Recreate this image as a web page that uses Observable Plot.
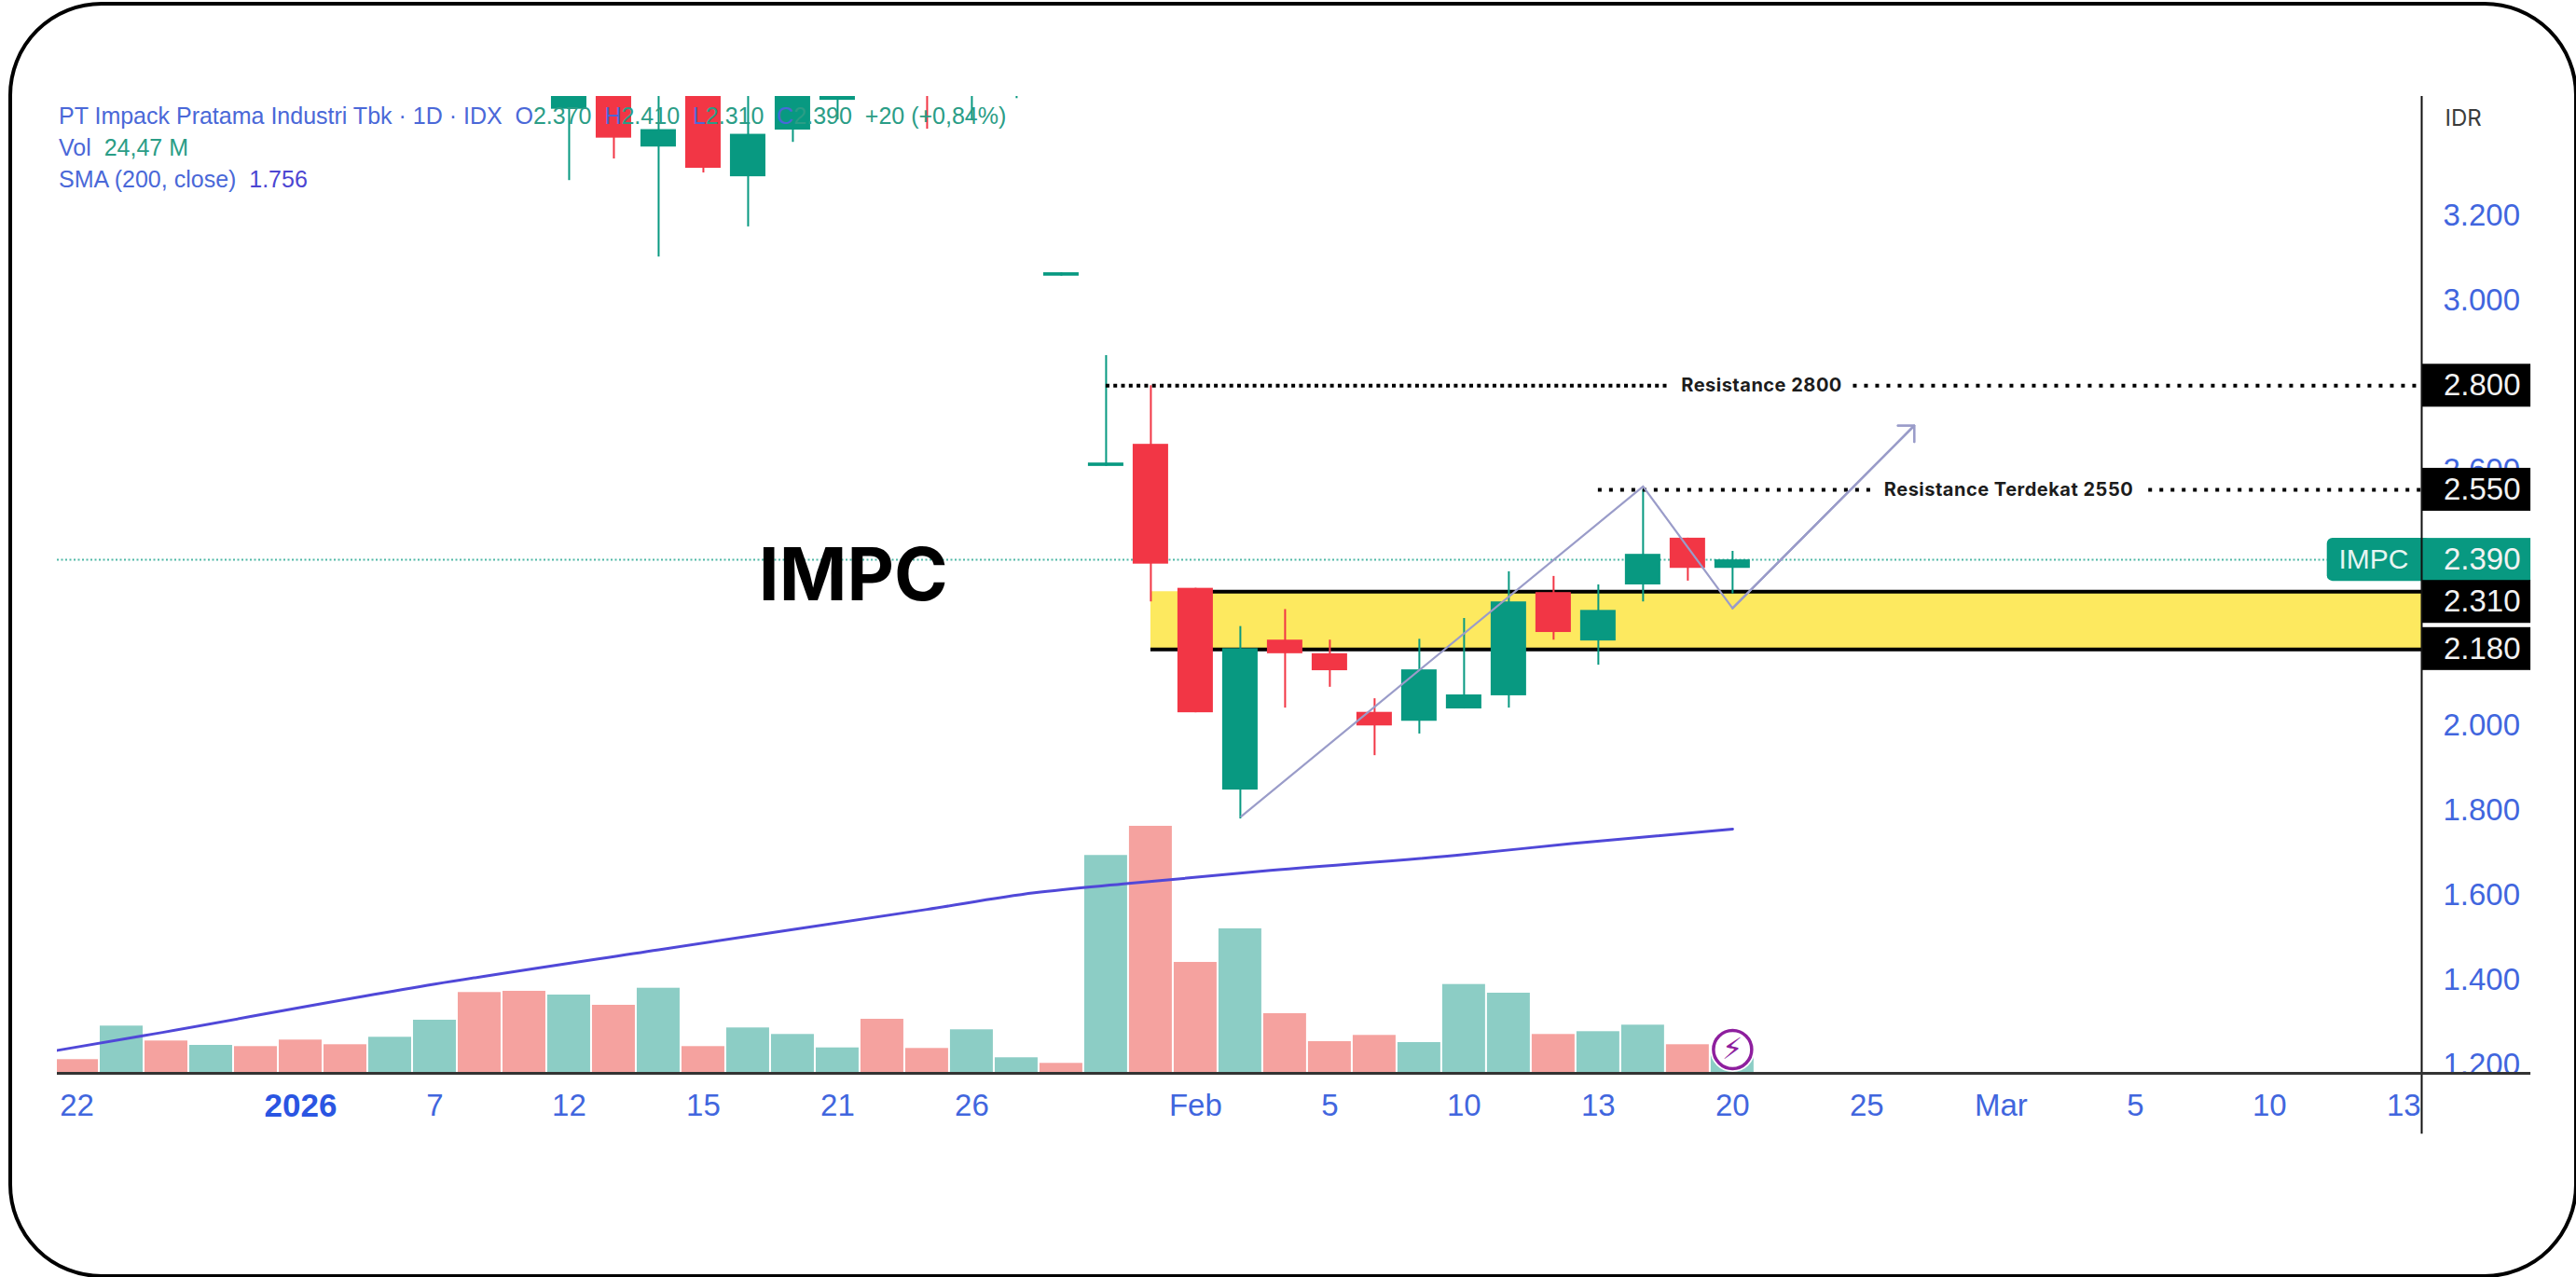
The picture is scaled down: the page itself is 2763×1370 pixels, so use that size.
<!DOCTYPE html>
<html>
<head>
<meta charset="utf-8">
<script src="https://cdn.jsdelivr.net/npm/d3@7"></script>
<script src="https://cdn.jsdelivr.net/npm/@observablehq/plot@0.6"></script>
<style>
  html, body { margin: 0; padding: 0; background: #fff; }
  #stage { position: relative; width: 2763px; height: 1370px; overflow: hidden; background: #fff; }
  #stage svg { position: absolute; left: 0; top: 0; background: transparent; }
  #border { position: absolute; left: 9px; top: 2px; width: 2756px; height: 1369px; box-sizing: border-box;
            border: 4px solid #000; border-radius: 100px; pointer-events: none; }
  #legend { position: absolute; left: 63px; top: 107px; font: 25px/34px "Liberation Sans", sans-serif; white-space: pre; color: #4a68d8; }
  #legend .v { color: #2a9d86; }
  #legend .s { color: #4c45d2; }
</style>
</head>
<body>
<div id="stage">
  <div id="border"></div>
  <div id="chart"></div>
  <div id="legend"><div>PT Impack Pratama Industri Tbk · 1D · IDX  O<span class="v">2.370</span>  H<span class="v">2.410</span>  L<span class="v">2.310</span>  C<span class="v">2.390</span>  <span class="v">+20 (+0,84%)</span></div><div>Vol  <span class="v">24,47 M</span></div><div>SMA (200, close)  <span class="s">1.756</span></div></div>
</div>
<script>
// Volume, in millions, one value per trading session starting at 22 Dec 2025
const volumes = [14.7, 50.7, 34.7, 30, 28.7, 35.7, 30.7, 38.7, 57, 86.7, 88, 84, 73, 91.3, 28.7, 48.7, 41.7, 27.3, 58, 26.7,
                 46.7, 16.7, 10.7, 233.7, 265, 119, 155, 64, 34, 40.7, 33, 95.3, 86, 41.7, 44.7, 51.7, 30.7, 24.47];
const volumeUp = [0,1,0,1,0,0,0,1,1,0,0,1,0,1,0,1,1,1,0,0,1,1,0,1,0,0,1,0,0,0,1,1,1,0,1,1,0,1];

// Candles: session index and OHLC
const candleIndex = [11,12,13,14,15,16,17,18,19,20,21,22,23,24,25,26,27,28,29,30,31,32,33,34,35,36,37];
const opens  = [3451,3510,3362,3500,3292,3402,3472,3540,3530,3500,3490,3058,2610,2662,2323,1848,2201,2169,2031,2010,2039,2070,2313,2199,2331,2441,2370];
const highs  = [3530,3530,3520,3520,3500,3520,3500,3560,3540,3540,3520,3066,2871,2800,2323,2233,2273,2201,2063,2203,2252,2362,2351,2331,2555,2441,2410];
const lows   = [3283,3334,3103,3301,3174,3373,3426,3500,3404,3426,3476,3058,2610,2291,2030,1780,2041,2090,1929,1980,2039,2041,2201,2142,2291,2340,2310];
const closes = [3510,3383,3403,3312,3392,3500,3482,3510,3500,3530,3510,3066,2618,2380,2030,2181,2169,2129,1999,2131,2072,2291,2219,2271,2403,2370,2390];

// SMA(200) read at these session positions
const smaIndex  = [-0.44, 1.5, 8, 13, 19, 21.4, 23.5, 26.5, 31, 33.4, 37];
const smaValues = [1235, 1270, 1391, 1472, 1567, 1606, 1628, 1657, 1696, 1722, 1756];

// Hand-drawn projection path
const pathIndex  = [26.02, 35, 37, 41.06];
const pathValues = [1786, 2563, 2276, 2706];

// Levels
const resistanceFar = 2800, resistanceNear = 2555, lastPrice = 2390, zoneTop = 2315, zoneBottom = 2179;

// Axes
const priceTicks = [3200, 3000, 2800, 2600, 2000, 1800, 1600, 1400, 1200];
const dateTickIndex = [0, 8, 11, 14, 17, 20, 25, 28, 31, 34, 37, 40, 43, 46, 49, 52];
const dateTickLabels = ["22", "7", "12", "15", "21", "26", "Feb", "5", "10", "13", "20", "25", "Mar", "5", "10", "13"];
const yearTickIndex = [5], yearTickLabels = ["2026"];

// Price tags on the right axis (2.310 is pushed down by its neighbour in the original)
const tagLevels = [2800, 2555, 2390, 2291, 2180];
const tagLabels = ["2.800", "2.550", "2.390", "2.310", "2.180"];
const tagColors = ["#000000", "#000000", "#089981", "#000000", "#000000"];

const RED = "#f23645", GREEN = "#089981", VOL_RED = "#f5a29f", VOL_GREEN = "#8ccdc5";
const TICK = "#4166de", FONT = "'Liberation Sans', sans-serif", HEAD = "Inter, 'Liberation Sans', sans-serif";
const volumeBase = 1181, pricePerVolume = 2.195; // volume pane shares the price scale
const xMin = -0.4375, xMax = 52.4, xOuter = 54.84, yMin = volumeBase, yMax = 3481, tagHalf = 50.5;

const volumeRows = volumes.map((v, i) => ({i, v, up: volumeUp[i]}));
const candleRows = candleIndex.map((i, k) => ({i, o: opens[k], h: highs[k], l: lows[k], c: closes[k], up: closes[k] >= opens[k]}));
const smaRows = smaIndex.map((i, k) => ({i, v: smaValues[k]}));
const pathRows = pathIndex.map((i, k) => ({i, v: pathValues[k]}));
const tagRows = tagLevels.map((v, k) => ({v, label: tagLabels[k], color: tagColors[k]}));
const dateLabel = new Map(dateTickIndex.map((d, k) => [d, dateTickLabels[k]]));
const yearLabel = new Map(yearTickIndex.map((d, k) => [d, yearTickLabels[k]]));

const svg = Plot.plot({
  width: 2763, height: 1370,
  marginTop: 103, marginBottom: 219, marginLeft: 61, marginRight: 166,
  x: {domain: [xMin, xMax], axis: null},
  y: {domain: [yMin, yMax], axis: null},
  style: {background: "transparent", fontFamily: FONT},
  marks: [
    // Yellow support zone
    Plot.rect([0], {x1: 24, x2: xMax, y1: zoneBottom, y2: zoneTop, fill: "#fde95f"}),
    Plot.ruleY([zoneTop], {x1: 25, x2: xMax, stroke: "#000", strokeWidth: 4}),
    Plot.ruleY([zoneBottom], {x1: 24, x2: xMax, stroke: "#000", strokeWidth: 4}),

    // Volume
    Plot.rect(volumeRows, {x1: d => d.i - 0.479, x2: d => d.i + 0.479, y1: volumeBase,
      y2: d => volumeBase + d.v * pricePerVolume, fill: d => d.up ? VOL_GREEN : VOL_RED, clip: true}),

    // Last-price dotted line
    Plot.ruleY([lastPrice], {x1: xMin, x2: 50.3, stroke: "#4fb8a6", strokeWidth: 2, strokeDasharray: "2 2.5"}),

    // SMA
    Plot.line(smaRows, {x: "i", y: "v", stroke: "#5048d8", strokeWidth: 3, curve: "monotone-x", clip: true}),

    // Candles
    Plot.ruleX(candleRows, {x: "i", y1: "l", y2: "h", stroke: d => d.up ? GREEN : RED, strokeWidth: 2, clip: true}),
    Plot.rect(candleRows, {x1: d => d.i - 0.396, x2: d => d.i + 0.396, y1: "o", y2: "c", fill: d => d.up ? GREEN : RED, clip: true}),

    // Resistance levels
    Plot.ruleY([resistanceFar], {x1: 23, x2: 35.6, stroke: "#000", strokeWidth: 4, strokeDasharray: "4 4.3"}),
    Plot.ruleY([resistanceFar], {x1: 39.7, x2: xMax - 0.1, stroke: "#000", strokeWidth: 4, strokeDasharray: "4 8"}),
    Plot.ruleY([resistanceNear], {x1: 34, x2: 40.1, stroke: "#000", strokeWidth: 4, strokeDasharray: "4 8"}),
    Plot.ruleY([resistanceNear], {x1: 46.3, x2: xMax, stroke: "#000", strokeWidth: 4, strokeDasharray: "4 8"}),
    Plot.text(["Resistance 2800"], {x: 37.65, y: resistanceFar, text: d => d, fontFamily: HEAD, fontWeight: 700, fontSize: 20, fill: "#1c1c1c"}),
    Plot.text(["Resistance Terdekat 2550"], {x: 43.17, y: resistanceNear, text: d => d, fontFamily: HEAD, fontWeight: 700, fontSize: 20, fill: "#1c1c1c"}),

    // Projection zig-zag
    Plot.line(pathRows, {x: "i", y: "v", stroke: "#9a9cc9", strokeWidth: 2.2}),
    Plot.arrow(pathRows.slice(2), {x1: d => pathRows[2].i, y1: d => pathRows[2].v, x2: d => pathRows[3].i, y2: d => pathRows[3].v,
      bend: 0, stroke: "#9a9cc9", strokeWidth: 2.2, headLength: 12, headAngle: 90}),

    // Big ticker
    Plot.text(["IMPC"], {x: 17.35, y: 2350, text: d => d, fontFamily: HEAD, fontWeight: 700, fontSize: 78, fill: "#000"}),

    // Lightning badge
    Plot.dot([{i: 37, v: 1237}], {x: "i", y: "v", r: 24, fill: "#fff"}),
    Plot.dot([{i: 37, v: 1237}], {x: "i", y: "v", r: 20.5, fill: "#fff", stroke: "#8e1f9e", strokeWidth: 3.5}),
    Plot.text(["\u26A1"], {x: 37, y: 1237, text: d => d, fontFamily: "'DejaVu Sans'", fontSize: 32, fill: "#8e1f9e"}),

    // Axes
    Plot.axisY(priceTicks, {anchor: "right", tickSize: 0, tickPadding: 23, label: null, fontSize: 33,
      tickFormat: d => d3.format(",")(d).replace(",", "."), color: TICK}),
    Plot.axisX(dateTickIndex, {anchor: "bottom", tickSize: 0, tickPadding: 22, label: null, fontSize: 33,
      tickFormat: d => dateLabel.get(d), color: TICK}),
    Plot.axisX(yearTickIndex, {anchor: "bottom", tickSize: 0, tickPadding: 22, label: null, fontSize: 35, fontWeight: 700,
      tickFormat: d => yearLabel.get(d), color: "#2a55e2"}),

    // Mask so that the lowest price tick is cut by the baseline
    Plot.rect([0], {x1: xMax, x2: xOuter, y1: volumeBase - 20, y2: volumeBase, fill: "#fff"}),

    // Ticker pill and price tags
    Plot.rect([0], {x1: 50.29, x2: 52.6, y1: lastPrice - tagHalf, y2: lastPrice + tagHalf, fill: GREEN, rx: 6}),
    Plot.text(["IMPC"], {frameAnchor: "right", y: lastPrice, text: d => d, dx: -14, textAnchor: "end", fontSize: 30, fill: "#e6f5f2"}),
    Plot.rect(tagRows, {x1: xMax, x2: xOuter, y1: d => d.v - tagHalf, y2: d => d.v + tagHalf, fill: "color"}),
    Plot.text(tagRows, {frameAnchor: "right", y: "v", text: "label", dx: 106, textAnchor: "end", fontSize: 33, fill: "#f2f2f2"}),
    Plot.text(["IDR"], {frameAnchor: "right", y: 3428, text: d => d, dx: 25, textAnchor: "start", fontFamily: HEAD, fontSize: 24, fill: "#3b3b3b"}),

    // Right axis and baseline
    Plot.ruleX([xMax], {y1: yMax, y2: 1038, stroke: "#111", strokeWidth: 2}),
    Plot.ruleY([volumeBase], {x1: xMin, x2: xOuter, stroke: "#333", strokeWidth: 3})
  ]
});
d3.select(svg).selectAll("text").filter(function () { return this.textContent.startsWith("Resistance"); })
  .attr("letter-spacing", "0.5px");
document.getElementById("chart").appendChild(svg);
</script>
</body>
</html>
